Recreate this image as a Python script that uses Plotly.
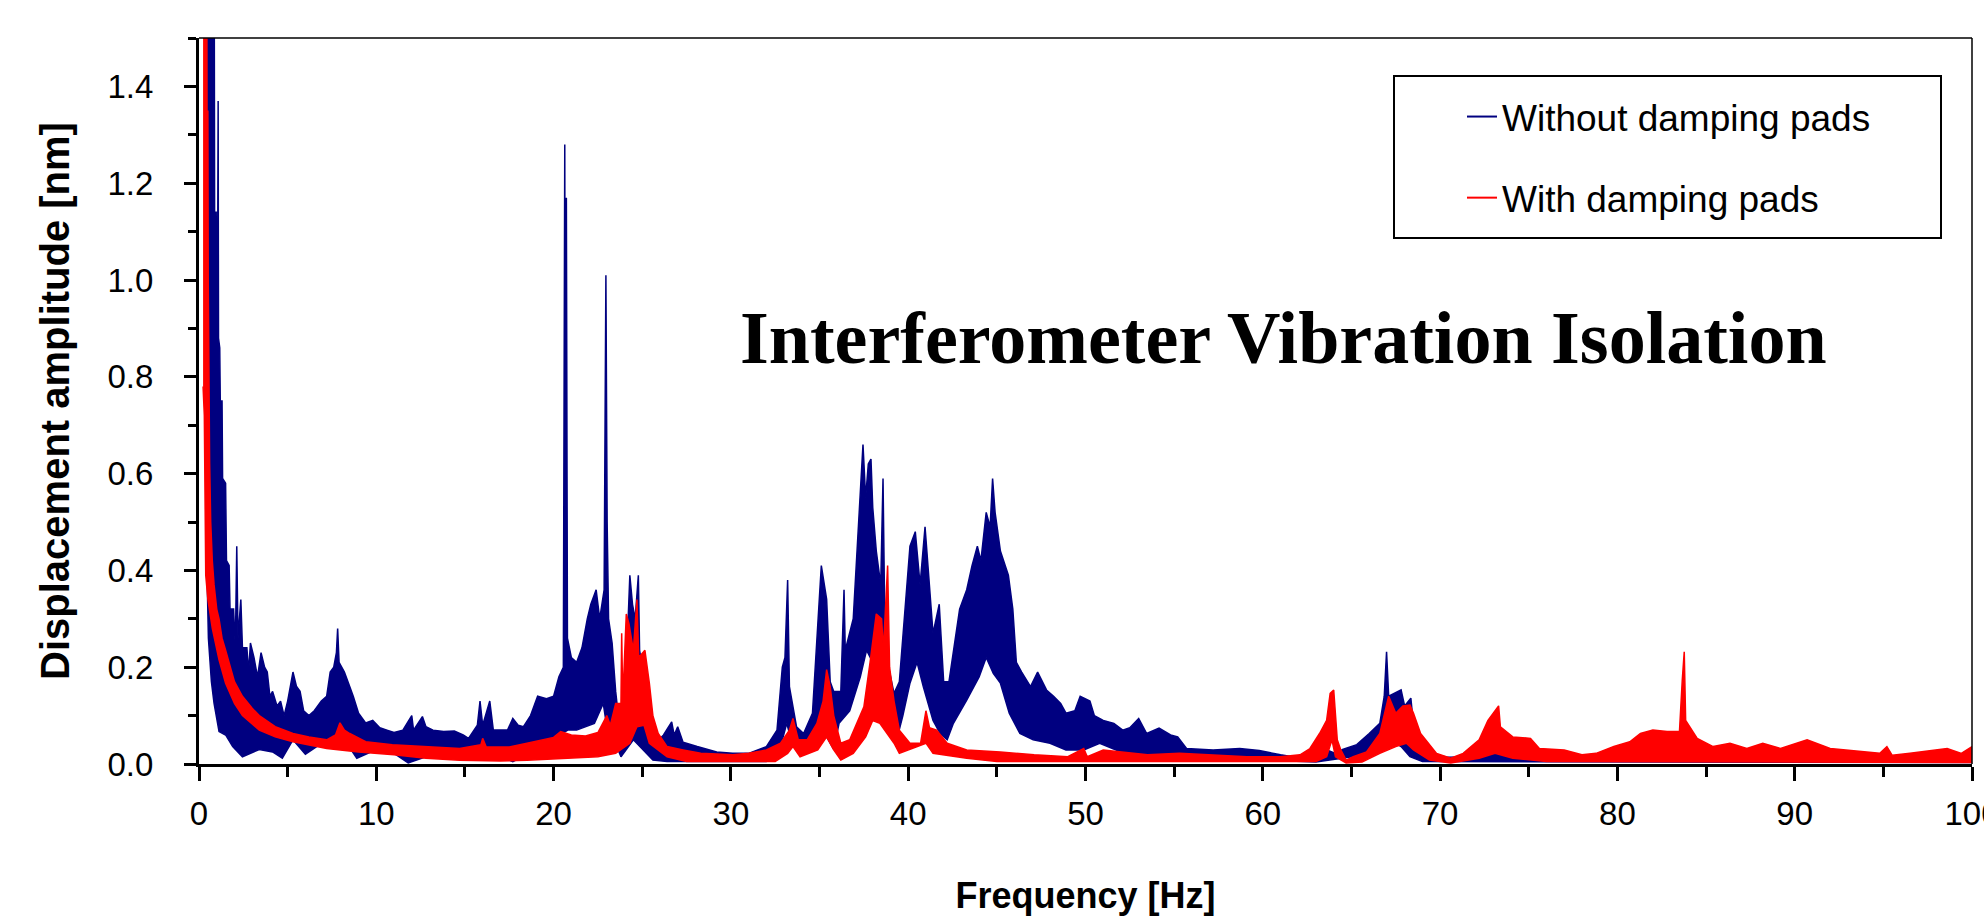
import plotly.graph_objects as go

# ---------------- data ----------------
# Without damping pads (blue): upper and lower envelope of the dense spectrum
f_blue_up = [0.38, 0.86, 0.88, 0.97, 0.99, 1.05, 1.08, 1.10, 1.17, 1.2, 1.3, 1.33, 1.5, 1.55, 1.7, 1.75, 1.95,
             2.05, 2.13, 2.2, 2.36, 2.45, 2.7, 2.8, 2.9, 3.1, 3.3, 3.5, 3.7, 3.85, 4.0, 4.15, 4.4, 4.6, 4.8, 5.0,
             5.3, 5.5, 5.7, 5.9, 6.2, 6.5, 6.9, 7.2, 7.4, 7.6, 7.75, 7.82, 7.9, 8.2, 8.5, 8.7, 9.0, 9.4, 9.8,
             10.2, 10.6, 11.0, 11.5, 12.0, 12.1, 12.6, 12.8, 13.2, 13.8, 14.4, 14.9, 15.2, 15.7, 15.85, 16.0,
             16.4, 16.6, 17.4, 17.7, 18.0, 18.3, 18.7, 19.1, 19.6, 20.0, 20.3, 20.55, 20.63, 20.66, 20.72, 20.78,
             21.0, 21.3, 21.6, 21.9, 22.1, 22.4, 22.6, 22.85, 22.95, 23.02, 23.1, 23.3, 23.5, 23.65, 23.9, 24.1,
             24.3, 24.45, 24.6, 24.78, 24.85, 25.0, 25.25, 25.4, 25.8, 26.2, 26.66, 26.8, 27.0, 27.3, 28.1, 29.2,
             30.1, 31.0, 32.0, 32.6, 32.9, 33.05, 33.2, 33.3, 33.7, 34.1, 34.6, 34.9, 35.1, 35.4, 35.6, 35.8,
             36.2, 36.38, 36.45, 36.9, 37.2, 37.45, 37.6, 37.75, 37.9, 38.0, 38.2, 38.45, 38.58, 38.7, 39.2,
             39.5, 39.8, 40.1, 40.4, 40.67, 40.95, 41.1, 41.4, 41.75, 42.0, 42.3, 42.55, 42.9, 43.3, 43.6, 43.9,
             44.1, 44.4, 44.62, 44.76, 44.9, 45.2, 45.65, 45.9, 46.1, 46.4, 46.9, 47.3, 47.8, 48.2, 48.6, 48.9,
             49.4, 49.7, 50.25, 50.5, 51.0, 51.6, 52.1, 52.5, 53.0, 53.45, 54.15, 54.8, 55.2, 55.7, 57.2, 58.7,
             59.8, 61.0, 62.1, 62.85, 63.6, 64.1, 64.5, 65.3, 66.0, 66.6, 66.85, 66.98, 67.1, 67.45, 67.8, 68.0,
             68.35, 68.5, 68.9, 69.4, 70.4, 72.2, 72.6, 73.0, 73.3, 73.6, 74.0, 75.0, 76.0, 78.0, 80.0, 83.0,
             83.7, 84.0, 88.0, 92.0, 96.0, 100.0]
v_blue_up = [1.6, 1.6, 1.14, 1.14, 1.04, 1.04, 1.37, 0.88, 0.86, 0.75, 0.75, 0.59, 0.58, 0.42, 0.41, 0.32, 0.32,
             0.24, 0.45, 0.26, 0.34, 0.24, 0.24, 0.19, 0.25, 0.22, 0.18, 0.23, 0.2, 0.19, 0.14, 0.15, 0.12, 0.13,
             0.1, 0.13, 0.19, 0.16, 0.15, 0.11, 0.10, 0.11, 0.13, 0.14, 0.19, 0.2, 0.23, 0.28, 0.21, 0.19, 0.16,
             0.14, 0.105, 0.085, 0.09, 0.075, 0.07, 0.065, 0.07, 0.10, 0.07, 0.098, 0.077, 0.07, 0.067, 0.068,
             0.06, 0.053, 0.08, 0.13, 0.08, 0.13, 0.07, 0.07, 0.094, 0.08, 0.077, 0.1, 0.14, 0.135, 0.14, 0.18,
             0.2, 1.28, 0.5, 1.17, 0.26, 0.22, 0.21, 0.24, 0.3, 0.33, 0.36, 0.30, 0.36, 1.01, 0.5, 0.3, 0.25,
             0.15, 0.1, 0.13, 0.2, 0.39, 0.33, 0.30, 0.39, 0.235, 0.2, 0.1, 0.045, 0.045, 0.06, 0.087, 0.06,
             0.077, 0.045, 0.036, 0.025, 0.022, 0.022, 0.036, 0.07, 0.2, 0.22, 0.38, 0.16, 0.077, 0.063, 0.105,
             0.3, 0.41, 0.34, 0.17, 0.15, 0.15, 0.36, 0.235, 0.30, 0.51, 0.66, 0.55, 0.62, 0.63, 0.53, 0.44,
             0.37, 0.59, 0.235, 0.146, 0.17, 0.31, 0.45, 0.48, 0.37, 0.49, 0.41, 0.27, 0.33, 0.17, 0.17, 0.23,
             0.32, 0.36, 0.41, 0.45, 0.42, 0.52, 0.49, 0.59, 0.52, 0.44, 0.39, 0.32, 0.21, 0.19, 0.16, 0.19,
             0.153, 0.14, 0.125, 0.105, 0.11, 0.14, 0.13, 0.1, 0.09, 0.084, 0.07, 0.075, 0.094, 0.063, 0.074,
             0.06, 0.056, 0.032, 0.029, 0.032, 0.028, 0.019, 0.012, 0.008, 0.029, 0.022, 0.03, 0.04, 0.063,
             0.084, 0.14, 0.232, 0.14, 0.146, 0.153, 0.12, 0.136, 0.08, 0.036, 0.022, 0.014, 0.015, 0.025,
             0.032, 0.03, 0.02, 0.018, 0.018, 0.012, 0.01, 0.01, 0.012, 0.016, 0.01, 0.009, 0.009, 0.008, 0.008]
f_blue_lo = [0.38, 0.45, 0.53, 0.7, 0.85, 1.13, 1.5, 1.9, 2.45, 3.4, 4.15, 4.7, 5.3, 6.0, 7.2, 7.9, 8.9, 10.0,
             11.0, 11.8, 12.8, 14.5, 16.5, 17.7, 18.5, 19.4, 19.9, 20.8, 21.3, 22.3, 22.8, 23.0, 23.4, 23.8,
             24.5, 25.6, 26.4, 32.0, 32.8, 33.15, 33.5, 34.3, 34.85, 35.4, 35.8, 36.1, 36.7, 37.3, 37.65, 38.0,
             38.6, 39.0, 39.35, 39.7, 40.1, 40.5, 40.85, 41.4, 41.8, 42.2, 42.55, 43.3, 44.0, 44.4, 44.8, 45.2,
             45.7, 46.3, 47.05, 48.0, 48.9, 49.9, 50.8, 52.0, 55.0, 60.0, 63.0, 66.0, 66.6, 67.2, 67.8, 68.3,
             69.0, 100.0]
v_blue_lo = [0.41, 0.40, 0.26, 0.17, 0.125, 0.067, 0.06, 0.036, 0.015, 0.03, 0.025, 0.012, 0.05, 0.02, 0.05,
             0.067, 0.012, 0.03, 0.022, 0.002, 0.015, 0.012, 0.022, 0.005, 0.02, 0.036, 0.05, 0.07, 0.07, 0.084,
             0.125, 0.077, 0.05, 0.015, 0.05, 0.008, 0.005, 0.005, 0.036, 0.084, 0.036, 0.036, 0.07, 0.056,
             0.03, 0.084, 0.11, 0.18, 0.235, 0.21, 0.146, 0.084, 0.05, 0.1, 0.167, 0.21, 0.16, 0.09, 0.063,
             0.05, 0.084, 0.132, 0.18, 0.22, 0.187, 0.167, 0.105, 0.063, 0.05, 0.043, 0.029, 0.029, 0.043,
             0.025, 0.015, 0.008, 0.004, 0.02, 0.03, 0.05, 0.036, 0.015, 0.005, 0.003]

# With damping pads (red)
f_red_up = [0.23, 0.44, 0.46, 0.5, 0.52, 0.55, 0.6, 0.66, 0.75, 0.85, 1.0, 1.13, 1.3, 1.5, 1.75, 2.0, 2.45, 3.0,
            3.4, 4.3, 5.3, 6.2, 7.2, 7.7, 7.95, 8.2, 8.5, 9.4, 10.9, 12.8, 14.7, 15.9, 16.0, 16.2, 17.5, 18.5,
            19.4, 20.0, 20.4, 21.0, 21.8, 22.5, 23.0, 23.2, 23.5, 23.8, 23.84, 23.9, 24.1, 24.25, 24.5, 24.7,
            24.8, 25.15, 25.4, 25.6, 25.9, 26.4, 27.3, 28.3, 30.1, 31.0, 32.0, 32.8, 33.3, 33.5, 33.8, 34.3,
            34.85, 35.2, 35.4, 35.6, 35.8, 36.2, 36.7, 37.5, 37.85, 38.2, 38.5, 38.6, 38.84, 38.95, 39.2, 39.5,
            40.1, 40.7, 41.0, 41.2, 41.6, 42.2, 43.3, 45.2, 47.1, 49.0, 49.9, 50.1, 51.0, 53.5, 55.3, 57.2,
            59.1, 61.0, 62.1, 62.66, 63.2, 63.6, 63.8, 64.0, 64.2, 64.4, 64.7, 65.1, 65.85, 66.6, 67.1, 67.5,
            67.9, 68.3, 68.5, 68.9, 69.2, 69.8, 70.6, 71.3, 72.2, 72.7, 73.3, 73.4, 74.1, 75.1, 75.6, 77.0,
            78.0, 78.8, 79.8, 80.7, 81.3, 82.0, 82.8, 83.5, 83.66, 83.77, 83.85, 84.5, 85.4, 86.35, 87.3, 88.2,
            89.2, 90.7, 92.0, 92.9, 94.8, 95.2, 95.5, 96.5, 98.6, 99.4, 100.0]
v_red_up = [1.6, 1.6, 1.2, 1.35, 1.0, 0.75, 0.62, 0.5, 0.42, 0.37, 0.32, 0.30, 0.26, 0.235, 0.2, 0.17, 0.14,
            0.115, 0.1, 0.077, 0.063, 0.056, 0.05, 0.06, 0.085, 0.07, 0.063, 0.046, 0.04, 0.036, 0.032, 0.04,
            0.053, 0.035, 0.035, 0.043, 0.05, 0.055, 0.067, 0.06, 0.058, 0.065, 0.1, 0.08, 0.125, 0.125, 0.27,
            0.13, 0.31, 0.29, 0.235, 0.34, 0.22, 0.235, 0.167, 0.1, 0.063, 0.036, 0.029, 0.022, 0.019, 0.022,
            0.029, 0.043, 0.07, 0.094, 0.05, 0.05, 0.084, 0.13, 0.195, 0.16, 0.1, 0.043, 0.05, 0.118, 0.21,
            0.31, 0.30, 0.235, 0.41, 0.2, 0.13, 0.07, 0.043, 0.043, 0.11, 0.075, 0.07, 0.043, 0.029, 0.025,
            0.019, 0.015, 0.032, 0.015, 0.029, 0.019, 0.022, 0.019, 0.015, 0.015, 0.019, 0.032, 0.063, 0.09,
            0.146, 0.153, 0.05, 0.029, 0.008, 0.015, 0.025, 0.063, 0.14, 0.105, 0.12, 0.122, 0.105, 0.063,
            0.05, 0.022, 0.012, 0.022, 0.05, 0.09, 0.12, 0.077, 0.056, 0.053, 0.032, 0.029, 0.019, 0.022, 0.036,
            0.046, 0.063, 0.07, 0.067, 0.067, 0.174, 0.232, 0.09, 0.053, 0.036, 0.043, 0.032, 0.043, 0.032,
            0.05, 0.032, 0.029, 0.022, 0.036, 0.018, 0.022, 0.032, 0.022, 0.036]
f_red_lo = [0.23, 0.3, 0.38, 0.5, 0.75, 1.13, 1.5, 2.0, 2.45, 3.4, 4.3, 5.3, 7.2, 9.0, 11.0, 12.8, 14.7, 17.0,
            18.5, 20.5, 22.5, 23.5, 24.3, 24.7, 25.1, 25.4, 26.4, 27.5, 32.5, 33.2, 33.5, 33.9, 34.9, 35.4,
            35.8, 36.2, 36.9, 37.6, 38.0, 38.4, 38.8, 39.2, 39.5, 41.0, 41.4, 43.3, 45.0, 63.0, 63.6, 63.9,
            64.1, 64.7, 65.6, 66.6, 67.5, 68.1, 68.5, 69.4, 70.6, 72.2, 73.1, 74.1, 76.0, 100.0]
v_red_lo = [0.78, 0.72, 0.39, 0.34, 0.28, 0.215, 0.167, 0.125, 0.1, 0.07, 0.056, 0.046, 0.032, 0.025, 0.019,
            0.012, 0.008, 0.006, 0.008, 0.012, 0.015, 0.022, 0.043, 0.077, 0.08, 0.043, 0.015, 0.005, 0.005,
            0.022, 0.036, 0.015, 0.029, 0.056, 0.029, 0.008, 0.022, 0.056, 0.09, 0.084, 0.063, 0.043, 0.022,
            0.043, 0.022, 0.012, 0.005, 0.005, 0.015, 0.05, 0.015, 0.002, 0.004, 0.022, 0.036, 0.043, 0.029,
            0.008, 0.002, 0.012, 0.022, 0.012, 0.005, 0.003]

series_names = ["Without damping pads", "With damping pads"]
x_ticks = [0, 10, 20, 30, 40, 50, 60, 70, 80, 90, 100]
y_ticks = [0.0, 0.2, 0.4, 0.6, 0.8, 1.0, 1.2, 1.4]

BLUE = "#000080"
RED = "#FF0000"

# ---------------- geometry (pixels of a 1984x916 canvas) ----------------
W, H = 1984, 916
L, R, T, B = 199, 1972, 38, 764
def px(xp):
    return (xp - L) / (R - L)
def py(yp):
    return (B - yp) / (B - T)

fig = go.Figure()
for fl, vl, fu, vu, col in [(f_blue_lo, v_blue_lo, f_blue_up, v_blue_up, BLUE),
                            (f_red_lo, v_red_lo, f_red_up, v_red_up, RED)]:
    fig.add_trace(go.Scatter(x=fl, y=vl, mode="lines", line=dict(color=col, width=1.5),
                             showlegend=False, hoverinfo="skip"))
    fig.add_trace(go.Scatter(x=fu, y=vu, mode="lines", line=dict(color=col, width=1.5),
                             fill="tonexty", fillcolor=col, showlegend=False, hoverinfo="skip"))

# legend entries
for name, col in zip(series_names, [BLUE, RED]):
    fig.add_trace(go.Scatter(x=[None], y=[None], mode="lines", name=name,
                             line=dict(color=col, width=2), legendgroup=name))

fig.update_layout(
    width=W, height=H,
    margin=dict(l=L, r=W - R, t=T, b=H - B, autoexpand=False),
    paper_bgcolor="white", plot_bgcolor="white",
    font=dict(family="Liberation Sans, Arial, sans-serif", color="black"),
    showlegend=True,
    legend=dict(x=px(1462), y=py(86), xanchor="left", yanchor="top",
                bgcolor="rgba(0,0,0,0)", borderwidth=0,
                font=dict(size=37, family="Liberation Sans, Arial, sans-serif"),
                tracegroupgap=30, traceorder="grouped"),
)

fig.update_xaxes(range=[0, 100], tickvals=x_ticks, ticktext=[str(v) for v in x_ticks],
                 ticks="outside", ticklen=14, tickwidth=3, tickcolor="black",
                 showline=True, linecolor="black", linewidth=3, showgrid=False, zeroline=False,
                 tickfont=dict(size=33), ticklabelstandoff=4, ticklabeloverflow="allow",
                 minor=dict(dtick=5, ticks="outside", ticklen=10, tickwidth=3, tickcolor="black", showgrid=False),
                 title=dict(text="<b>Frequency [Hz]</b>", font=dict(size=36), standoff=58),
                 automargin=False)
fig.update_yaxes(range=[0, 1.5], tickvals=y_ticks, ticktext=["%.1f" % v for v in y_ticks],
                 ticks="outside", ticklen=12, tickwidth=3, tickcolor="black",
                 showline=True, linecolor="black", linewidth=3, showgrid=False, zeroline=False,
                 tickfont=dict(size=33), ticklabelstandoff=24,
                 minor=dict(dtick=0.1, ticks="outside", ticklen=8, tickwidth=3, tickcolor="black", showgrid=False),
                 title=dict(text="<b>Displacement amplitude [nm]</b>", font=dict(size=40), standoff=26),
                 automargin=False)

# top and right frame lines, legend box
fig.add_shape(type="line", xref="paper", yref="paper", x0=0, x1=1, y0=1, y1=1,
              line=dict(color="black", width=1.5))
fig.add_shape(type="line", xref="paper", yref="paper", x0=1, x1=1, y0=0, y1=1,
              line=dict(color="black", width=1.5))
fig.add_shape(type="rect", xref="paper", yref="paper", x0=px(1394), x1=px(1941), y0=py(238), y1=py(76),
              line=dict(color="black", width=2), fillcolor="rgba(0,0,0,0)", layer="above")

fig.add_annotation(text="<b>Interferometer Vibration Isolation</b>", xref="paper", yref="paper",
                   x=px(1283), y=py(338), xanchor="center", yanchor="middle", showarrow=False,
                   font=dict(family="Liberation Serif, Times New Roman, serif", size=74, color="black"))

fig.write_html("out.html", config={"displayModeBar": False},
               post_script="document.body.style.margin='0px';")
